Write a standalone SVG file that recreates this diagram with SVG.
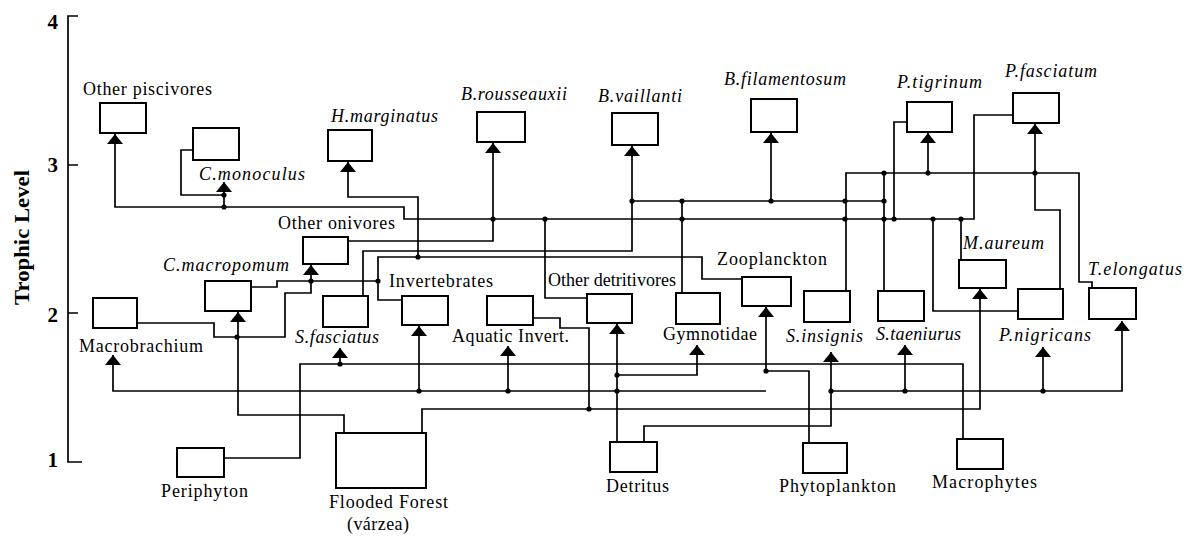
<svg xmlns="http://www.w3.org/2000/svg" width="1189" height="536" viewBox="0 0 1189 536">
<style>
.box{fill:#fff;stroke:#000;stroke-width:2}
.ln{fill:none;stroke:#000;stroke-width:1.7}
.lbl{font-family:"Liberation Serif","Times New Roman",serif;font-size:18px;fill:#000}
.it{font-style:italic}
.ax{font-family:"Liberation Serif","Times New Roman",serif;font-weight:bold;font-size:21px;fill:#000}
.dot{fill:#000}
</style>
<defs>
<marker id="ah" viewBox="0 0 10 16" refX="10" refY="8" markerWidth="10" markerHeight="16" orient="auto" markerUnits="userSpaceOnUse">
<path d="M0,0 L10,8 L0,16 z" fill="#000"/>
</marker>
</defs>
<rect width="1189" height="536" fill="#fff"/>

<g id="axis">
<path class="ln" d="M78,16 H68 V462 H82 M68,165 H78 M68,313 H78"/>
<text class="ax" x="58" y="29" text-anchor="end">4</text>
<text class="ax" x="58" y="172" text-anchor="end">3</text>
<text class="ax" x="58" y="322" text-anchor="end">2</text>
<text class="ax" x="58" y="467" text-anchor="end">1</text>
<text class="ax" transform="translate(29,305) rotate(-90)" x="0" y="0" textLength="135" lengthAdjust="spacingAndGlyphs">Trophic Level</text>
</g>

<g id="connectors">
<path class="ln" marker-end="url(#ah)" d="M1013,115 H974 V219 H404 V207 H115 V134"/>
<path class="ln" marker-end="url(#ah)" d="M224,207 V182"/>
<path class="ln" d="M193,150 H181 V195 H224"/>
<path class="ln" marker-end="url(#ah)" d="M418,257 V197 H348 V162"/>
<path class="ln" marker-end="url(#ah)" d="M348,241 H493 V143"/>
<path class="ln" d="M587,298 H545 V219"/>
<path class="ln" marker-end="url(#ah)" d="M363,296 V251 H632 V146"/>
<path class="ln" d="M632,201 H884"/>
<path class="ln" marker-end="url(#ah)" d="M771,201 V133"/>
<path class="ln" d="M682,293 V201"/>
<path class="ln" d="M846,291 V173 H1079 V282 H1092 V288"/>
<path class="ln" d="M884,291 V173"/>
<path class="ln" d="M907,122 H894 V219"/>
<path class="ln" marker-end="url(#ah)" d="M928,173 V133"/>
<path class="ln" marker-end="url(#ah)" d="M1060,289 V210 H1035 V124"/>
<path class="ln" d="M1018,311 H933 V219"/>
<path class="ln" d="M961,260 V219"/>
<path class="ln" d="M742,279 H702 V257 H378 V300 H402"/>
<path class="ln" d="M251,287 H277 V281 H378"/>
<path class="ln" marker-end="url(#ah)" d="M137,323 H214 V337 H285 V293 H311 V265"/>
<path class="ln" marker-end="url(#ah)" d="M344,433 V415 H238 V312"/>
<path class="ln" marker-end="url(#ah)" d="M422,433 V409 H980 V289"/>
<path class="ln" d="M533,318 H560 V328 H589 V409"/>
<path class="ln" marker-end="url(#ah)" d="M766,391 H113 V355"/>
<path class="ln" marker-end="url(#ah)" d="M809,443 V371 H766 V307"/>
<path class="ln" marker-end="url(#ah)" d="M617,442 V324"/>
<path class="ln" marker-end="url(#ah)" d="M617,375 H697 V345"/>
<path class="ln" marker-end="url(#ah)" d="M419,391 V326"/>
<path class="ln" marker-end="url(#ah)" d="M508,391 V346"/>
<path class="ln" marker-end="url(#ah)" d="M644,442 V426 H831 V352"/>
<path class="ln" marker-end="url(#ah)" d="M831,391 H1122 V321"/>
<path class="ln" marker-end="url(#ah)" d="M905,391 V345"/>
<path class="ln" marker-end="url(#ah)" d="M1043,391 V347"/>
<path class="ln" d="M224,458 H300 V364 H963 V439"/>
<path class="ln" marker-end="url(#ah)" d="M340,364 V348"/>
<g class="dot">
<circle cx="224" cy="207" r="2.6"/><circle cx="224" cy="195" r="2.6"/>
<circle cx="418" cy="257" r="2.6"/><circle cx="493" cy="219" r="2.6"/>
<circle cx="545" cy="219" r="2.6"/><circle cx="632" cy="201" r="2.6"/>
<circle cx="682" cy="201" r="2.6"/><circle cx="771" cy="201" r="2.6"/>
<circle cx="845" cy="201" r="2.6"/><circle cx="884" cy="201" r="2.6"/>
<circle cx="682" cy="219" r="2.6"/><circle cx="845" cy="219" r="2.6"/>
<circle cx="884" cy="219" r="2.6"/><circle cx="894" cy="219" r="2.6"/>
<circle cx="933" cy="219" r="2.6"/><circle cx="961" cy="219" r="2.6"/>
<circle cx="884" cy="173" r="2.6"/><circle cx="928" cy="173" r="2.6"/>
<circle cx="1035" cy="173" r="2.6"/>
<circle cx="378" cy="281" r="2.6"/><circle cx="311" cy="281" r="2.6"/>
<circle cx="237" cy="337" r="2.6"/><circle cx="589" cy="409" r="2.6"/>
<circle cx="766" cy="371" r="2.6"/><circle cx="617" cy="375" r="2.6"/>
<circle cx="617" cy="391" r="2.6"/><circle cx="419" cy="391" r="2.6"/>
<circle cx="508" cy="391" r="2.6"/><circle cx="831" cy="391" r="2.6"/>
<circle cx="905" cy="391" r="2.6"/><circle cx="1043" cy="391" r="2.6"/>
<circle cx="340" cy="364" r="2.6"/>
</g>
</g>

<g id="other-piscivores"><rect class="box" x="100" y="103" width="46" height="30"/><text class="lbl" x="83" y="95" textLength="129">Other piscivores</text></g>
<g id="c-monoculus"><rect class="box" x="193" y="128" width="46" height="32"/><text class="lbl it" x="199" y="180" textLength="106">C.monoculus</text></g>
<g id="h-marginatus"><rect class="box" x="328" y="130" width="44" height="31"/><text class="lbl it" x="331" y="122" textLength="107">H.marginatus</text></g>
<g id="b-rousseauxii"><rect class="box" x="477" y="112" width="48" height="30"/><text class="lbl it" x="461" y="100" textLength="106">B.rousseauxii</text></g>
<g id="b-vaillanti"><rect class="box" x="612" y="113" width="46" height="32"/><text class="lbl it" x="598" y="102" textLength="84">B.vaillanti</text></g>
<g id="b-filamentosum"><rect class="box" x="751" y="99" width="46" height="33"/><text class="lbl it" x="724" y="85" textLength="122">B.filamentosum</text></g>
<g id="p-tigrinum"><rect class="box" x="907" y="102" width="45" height="30"/><text class="lbl it" x="897" y="88" textLength="85">P.tigrinum</text></g>
<g id="p-fasciatum"><rect class="box" x="1013" y="93" width="46" height="30"/><text class="lbl it" x="1005" y="77" textLength="92">P.fasciatum</text></g>
<g id="other-onivores"><rect class="box" x="303" y="237" width="45" height="27"/><text class="lbl" x="278" y="229" textLength="117">Other onivores</text></g>
<g id="c-macropomum"><rect class="box" x="205" y="281" width="46" height="30"/><text class="lbl it" x="163" y="271" textLength="126">C.macropomum</text></g>
<g id="macrobrachium"><rect class="box" x="93" y="298" width="44" height="30"/><text class="lbl" x="79" y="352" textLength="124">Macrobrachium</text></g>
<g id="s-fasciatus"><rect class="box" x="323" y="296" width="45" height="31"/><text class="lbl it" x="295" y="343" textLength="84">S.fasciatus</text></g>
<g id="invertebrates"><rect class="box" x="402" y="296" width="46" height="29"/><text class="lbl" x="389" y="287" textLength="104">Invertebrates</text></g>
<g id="aquatic-invert"><rect class="box" x="487" y="296" width="46" height="29"/><text class="lbl" x="452" y="342" textLength="117">Aquatic Invert.</text></g>
<g id="other-detritivores"><rect class="box" x="587" y="294" width="45" height="29"/><text class="lbl" x="548" y="286" textLength="128">Other detritivores</text></g>
<g id="gymnotidae"><rect class="box" x="676" y="293" width="44" height="31"/><text class="lbl" x="663" y="340" textLength="94">Gymnotidae</text></g>
<g id="zooplanckton"><rect class="box" x="742" y="277" width="49" height="29"/><text class="lbl" x="717" y="265" textLength="110">Zooplanckton</text></g>
<g id="s-insignis"><rect class="box" x="804" y="291" width="46" height="31"/><text class="lbl it" x="786" y="342" textLength="77">S.insignis</text></g>
<g id="s-taeniurus"><rect class="box" x="878" y="291" width="46" height="30"/><text class="lbl it" x="876" y="340" textLength="85">S.taeniurus</text></g>
<g id="m-aureum"><rect class="box" x="959" y="260" width="47" height="28"/><text class="lbl it" x="963" y="249" textLength="81">M.aureum</text></g>
<g id="p-nigricans"><rect class="box" x="1018" y="289" width="45" height="30"/><text class="lbl it" x="999" y="341" textLength="92">P.nigricans</text></g>
<g id="t-elongatus"><rect class="box" x="1089" y="288" width="47" height="31"/><text class="lbl it" x="1088" y="275" textLength="94">T.elongatus</text></g>
<g id="periphyton"><rect class="box" x="177" y="448" width="47" height="29"/><text class="lbl" x="161" y="497" textLength="87">Periphyton</text></g>
<g id="flooded-forest"><rect class="box" x="336" y="433" width="90" height="55"/><text class="lbl" x="329" y="508" textLength="119">Flooded Forest</text><text class="lbl" x="347" y="530" textLength="62">(várzea)</text></g>
<g id="detritus"><rect class="box" x="610" y="442" width="47" height="30"/><text class="lbl" x="606" y="492" textLength="63">Detritus</text></g>
<g id="phytoplankton"><rect class="box" x="803" y="443" width="44" height="30"/><text class="lbl" x="779" y="492" textLength="117">Phytoplankton</text></g>
<g id="macrophytes"><rect class="box" x="957" y="439" width="46" height="30"/><text class="lbl" x="932" y="488" textLength="105">Macrophytes</text></g>
</svg>
